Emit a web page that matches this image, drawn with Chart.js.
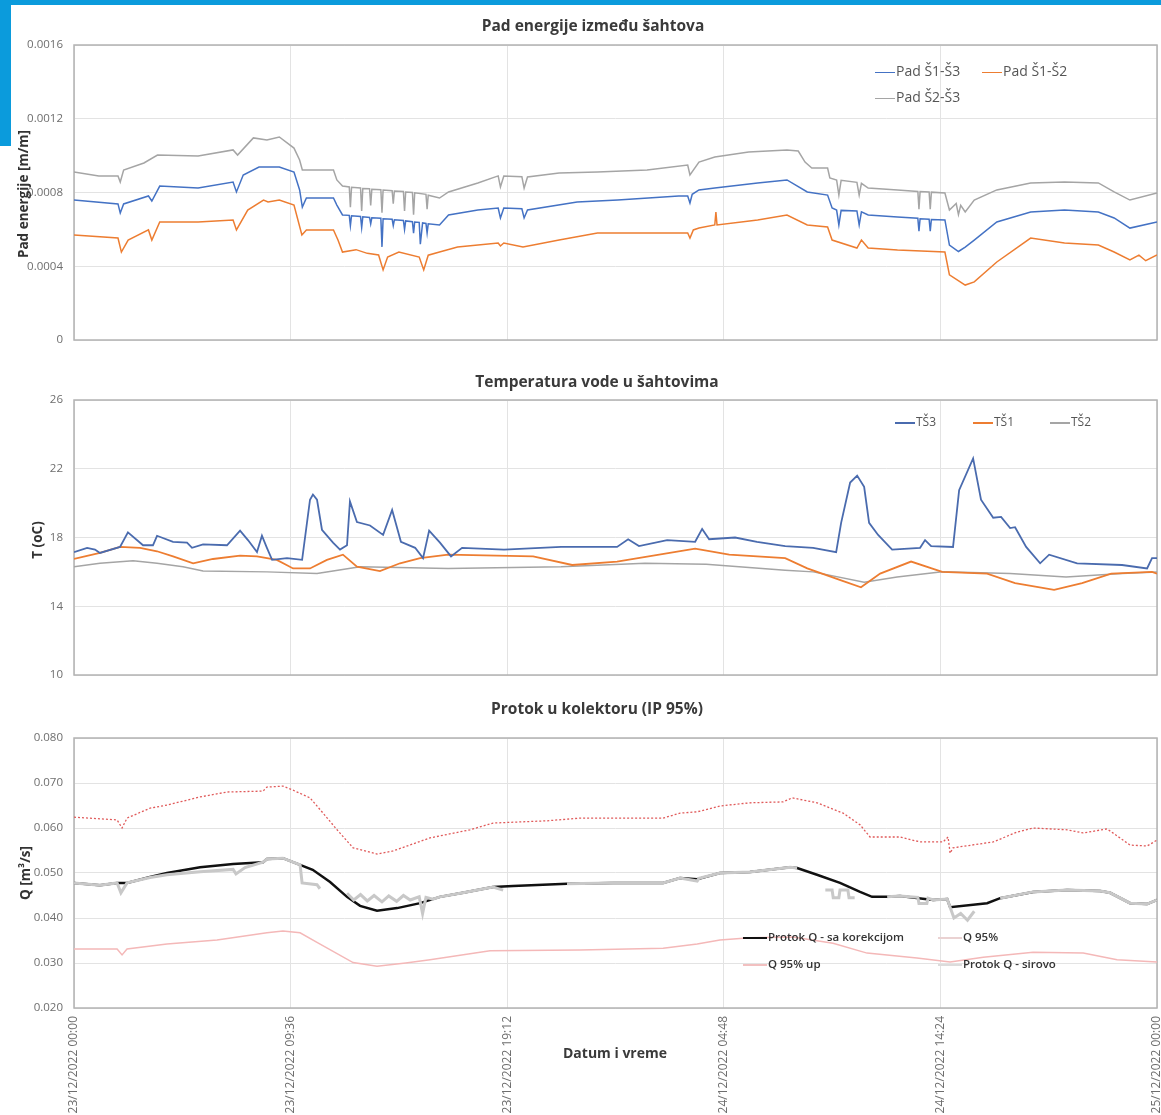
<!DOCTYPE html>
<html>
<head>
<meta charset="utf-8">
<script src="https://cdn.jsdelivr.net/npm/chart.js@4.4.0/dist/chart.umd.min.js"></script>
<style>
body { margin: 0; background: #fff; font-family: "Open Sans", sans-serif; }
#page { position: relative; width: 1161px; height: 1115px; overflow: hidden; background: #fff; }
canvas { position: absolute; left: 0; }
.bar { position: absolute; background: #0b9bdc; }
.title { position: absolute; width: 600px; text-align: center; font-weight: 700; font-size: 15.5px; color: #3a3a3a; line-height: 20px; }
.ytitle { position: absolute; width: 200px; text-align: center; font-weight: 700; font-size: 13.5px; color: #333; line-height: 16px; transform: rotate(-90deg); }
.leg { position: absolute; font-size: 12px; color: #555; line-height: 16px; white-space: nowrap; }
.leg i { display: inline-block; width: 20px; vertical-align: middle; margin-right: 1px; }
.leg1 { font-size: 14px; }
.leg3 { font-size: 11.5px; font-weight: 600; color: #333; }
.leg3 i { width: 24px; }
</style>
</head>
<body>
<div id="page">
  <canvas id="c1" width="1161" height="350" style="top:0"></canvas>
  <canvas id="c2" width="1161" height="335" style="top:350px"></canvas>
  <canvas id="c3" width="1161" height="430" style="top:685px"></canvas>

  <div class="bar" style="left:0;top:0;width:1161px;height:5px"></div>
  <div class="bar" style="left:0;top:0;width:11px;height:146px"></div>

  <div class="title" style="left:293px;top:15px">Pad energije između šahtova</div>
  <div class="title" style="left:297px;top:371px">Temperatura vode u šahtovima</div>
  <div class="title" style="left:297px;top:698px">Protok u kolektoru (IP 95%)</div>

  <div class="ytitle" style="left:-77px;top:186px">Pad energije [m/m]</div>
  <div class="ytitle" style="left:-63px;top:532px">T (oC)</div>
  <div class="ytitle" style="left:-75px;top:865px">Q [m³/s]</div>
  <div class="title" style="left:315px;top:1043px;font-size:14px">Datum i vreme</div>

  <div id="legends"></div>
</div>

<script>
// x axis: hours from 23/12/2022 00:00
var tickHours = [0, 9.6, 19.2, 28.8, 38.4, 48];
var tickLabels = ['23/12/2022 00:00', '23/12/2022 09:36', '23/12/2022 19:12',
    '24/12/2022 04:48', '24/12/2022 14:24', '25/12/2022 00:00'];

// chart 1 - pad energije [m/m], [hour, value]
var padTicks = [0, 0.0004, 0.0008, 0.0012, 0.0016];
var padS13 = [[0,0.000759],[1.95,0.000738],[2.05,0.000689],[2.2,0.000738],[3.3,0.000781],[3.45,0.000754],[3.8,0.000835],
    [5.5,0.000824],[7.05,0.000857],[7.2,0.000803],[7.5,0.000895],[8.2,0.000938],[9.1,0.000938],[9.75,0.000911],
    [10.0,0.000814],[10.12,0.000721],[10.3,0.000770],[11.5,0.000770],[11.65,0.000732],[11.9,0.000678],
    [12.2,0.000676],[12.25,0.000620],[12.3,0.000674],[12.7,0.000670],[12.75,0.000610],[12.8,0.000668],
    [13.1,0.000665],[13.15,0.000630],[13.2,0.000663],[13.6,0.000660],[13.65,0.000505],[13.7,0.000658],
    [14.1,0.000655],[14.15,0.000620],[14.2,0.000652],[14.6,0.000648],[14.65,0.000600],[14.7,0.000646],
    [15.0,0.000642],[15.05,0.000580],[15.1,0.000640],[15.3,0.000638],[15.35,0.000520],[15.45,0.000635],
    [15.6,0.000632],[15.65,0.000580],[15.7,0.000630],[16.2,0.000624],[16.6,0.000678],[17.9,0.000705],
    [18.8,0.000716],[18.9,0.000662],[19.05,0.000716],[19.85,0.000712],[19.95,0.000662],[20.1,0.000705],
    [22.3,0.000749],[24.1,0.000759],[26.8,0.000781],[27.2,0.000781],[27.3,0.000743],[27.4,0.000790],
    [27.7,0.000814],[28.4,0.000824],[30.3,0.000852],[31.6,0.000868],[32.5,0.000803],[33.4,0.000786],
    [33.6,0.000716],[33.8,0.000705],[33.9,0.000624],[34.0,0.000703],[34.7,0.000700],[34.8,0.000624],
    [34.9,0.000695],[35.2,0.000678],[36.5,0.000667],[37.4,0.000660],[37.45,0.000590],[37.5,0.000658],
    [37.9,0.000655],[37.95,0.000590],[38.0,0.000654],[38.6,0.000651],[38.8,0.000515],[39.2,0.000480],
    [39.5,0.000504],[39.9,0.000542],[40.9,0.000640],[42.4,0.000694],[43.9,0.000705],[45.4,0.000694],
    [46.1,0.000662],[46.8,0.000607],[48,0.000640]];
var padS12 = [[0,0.000570],[1.95,0.000553],[2.1,0.000477],[2.4,0.000542],[3.3,0.000597],[3.45,0.000542],[3.8,0.000640],
    [5.5,0.000640],[7.05,0.000651],[7.2,0.000597],[7.7,0.000705],[8.4,0.000759],[8.6,0.000749],[9.1,0.000759],
    [9.75,0.000732],[10.1,0.000570],[10.3,0.000597],[11.5,0.000597],[11.7,0.000542],[11.9,0.000477],
    [12.5,0.000490],[13.0,0.000470],[13.5,0.000461],[13.7,0.000380],[13.9,0.000450],[14.4,0.000477],
    [15.3,0.000450],[15.5,0.000380],[15.7,0.000460],[16.2,0.000477],[17.0,0.000504],[18.8,0.000526],
    [18.9,0.000510],[19.05,0.000526],[19.9,0.000505],[21.5,0.000542],[23.2,0.000580],[25.0,0.000580],
    [26.8,0.000580],[27.2,0.000580],[27.3,0.000553],[27.45,0.000597],[27.7,0.000607],[28.4,0.000624],
    [28.45,0.000694],[28.5,0.000624],[30.3,0.000651],[31.6,0.000678],[32.5,0.000624],[33.4,0.000613],
    [33.6,0.000542],[34.7,0.000499],[34.9,0.000542],[35.2,0.000499],[36.5,0.000488],[38.6,0.000477],
    [38.8,0.000353],[39.5,0.000298],[39.9,0.000315],[40.9,0.000423],[42.4,0.000553],[43.9,0.000526],
    [45.4,0.000515],[46.1,0.000477],[46.8,0.000434],[47.2,0.000460],[47.5,0.000430],[48,0.000461]];
var padS23 = [[0,0.000911],[1.1,0.000890],[1.95,0.000890],[2.05,0.000857],[2.2,0.000922],[3.1,0.000960],[3.7,0.001003],
    [5.5,0.000998],[7.05,0.001031],[7.25,0.001003],[7.95,0.001096],[8.55,0.001085],[9.1,0.001101],[9.75,0.001041],
    [10.0,0.000976],[10.12,0.000922],[11.5,0.000922],[11.65,0.000868],[11.9,0.000835],
    [12.2,0.000830],[12.25,0.000720],[12.3,0.000828],[12.7,0.000825],[12.75,0.000700],[12.8,0.000822],
    [13.1,0.000820],[13.15,0.000730],[13.2,0.000818],[13.6,0.000815],[13.65,0.000690],[13.7,0.000813],
    [14.1,0.000810],[14.15,0.000740],[14.2,0.000808],[14.6,0.000805],[14.65,0.000700],[14.7,0.000803],
    [15.0,0.000800],[15.05,0.000680],[15.1,0.000798],[15.6,0.000790],[15.65,0.000710],[15.7,0.000785],
    [16.2,0.000770],[16.6,0.000803],[17.9,0.000852],[18.8,0.000890],[18.9,0.000830],[19.05,0.000890],
    [19.85,0.000886],[19.95,0.000824],[20.1,0.000884],[21.5,0.000906],[23.2,0.000911],[25.4,0.000922],
    [27.2,0.000949],[27.3,0.000895],[27.7,0.000965],[28.4,0.000993],[29.9,0.001020],[31.6,0.001030],
    [32.1,0.001025],[32.4,0.000965],[32.7,0.000933],[33.4,0.000933],[33.5,0.000879],[33.8,0.000868],
    [33.9,0.000786],[34.0,0.000866],[34.7,0.000855],[34.8,0.000786],[34.9,0.000850],[35.2,0.000824],
    [36.5,0.000814],[37.4,0.000806],[37.45,0.000710],[37.5,0.000805],[37.9,0.000803],[37.95,0.000710],
    [38.0,0.000802],[38.6,0.000797],[38.8,0.000705],[39.1,0.000740],[39.2,0.000680],[39.3,0.000730],
    [39.5,0.000694],[39.9,0.000759],[40.9,0.000814],[42.4,0.000852],[43.9,0.000857],[45.4,0.000852],
    [46.1,0.000803],[46.8,0.000759],[48,0.000797]];

// chart 2 - temperatura [oC]
var tempTicks = [10, 14, 18, 22, 26];
var tempS3 = [[0,17.15],[0.58,17.4],[0.93,17.3],[1.15,17.1],[2.04,17.45],[2.39,18.3],[3.06,17.55],[3.5,17.55],
    [3.68,18.1],[4.39,17.75],[5.01,17.7],[5.23,17.4],[5.72,17.6],[6.78,17.55],[7.36,18.4],[7.71,17.85],
    [8.11,17.15],[8.33,18.1],[8.55,17.4],[8.78,16.7],[9.44,16.8],[10.11,16.7],[10.46,20.2],[10.59,20.5],
    [10.77,20.2],[10.99,18.45],[11.48,17.7],[11.79,17.3],[12.1,17.55],[12.23,20.1],[12.54,18.9],[13.12,18.7],
    [13.7,18.15],[14.1,19.6],[14.49,17.75],[15.12,17.4],[15.47,16.8],[15.74,18.4],[16.22,17.7],[16.71,16.9],
    [17.2,17.4],[19.06,17.3],[21.59,17.45],[24.07,17.45],[24.56,17.9],[25.04,17.5],[26.29,17.85],[27.53,17.75],
    [27.84,18.5],[28.15,17.9],[29.3,18.0],[30.27,17.75],[31.52,17.5],[32.76,17.4],[33.78,17.15],[34.0,18.85],
    [34.4,21.2],[34.71,21.6],[35.02,20.95],[35.24,18.85],[35.64,18.15],[36.26,17.3],[37.5,17.4],[37.72,17.85],
    [37.99,17.5],[38.96,17.45],[39.23,20.75],[39.85,22.6],[40.2,20.2],[40.74,19.15],[41.09,19.2],[41.49,18.55],
    [41.71,18.6],[42.2,17.45],[42.82,16.5],[43.22,17.0],[44.46,16.5],[46.45,16.4],[47.56,16.2],[47.78,16.8],[48,16.8]];
var tempS1 = [[0,16.75],[1.15,17.1],[2.04,17.45],[2.93,17.4],[3.68,17.2],[4.39,16.9],[5.28,16.5],[6.16,16.75],
    [7.36,16.95],[8.11,16.9],[8.99,16.7],[9.71,16.2],[10.46,16.2],[11.21,16.7],[11.92,17.0],[12.54,16.3],
    [13.56,16.05],[14.45,16.5],[15.34,16.8],[16.58,17.0],[20.35,16.9],[22.08,16.4],[24.07,16.6],[27.53,17.35],
    [29.04,17.0],[31.52,16.8],[32.5,16.2],[34.0,15.5],[34.88,15.1],[35.73,15.9],[37.1,16.6],[38.48,16.0],
    [40.47,15.9],[41.71,15.35],[43.44,14.95],[44.68,15.35],[45.97,15.9],[47.78,16.0],[48,15.9]];
var tempS2 = [[0,16.3],[1.15,16.5],[2.62,16.65],[3.68,16.5],[4.83,16.3],[5.72,16.05],[8.55,16.0],[10.77,15.9],
    [11.48,16.05],[12.68,16.3],[16.58,16.2],[21.59,16.3],[25.31,16.5],[28.02,16.45],[31.52,16.1],[32.76,16.0],
    [35.02,15.4],[36.48,15.7],[38.48,16.0],[41.49,15.9],[43.97,15.7],[46.45,15.9],[48,16.0]];

// chart 3 - protok [m3/s]
var qTicks = [0.020, 0.030, 0.040, 0.050, 0.060, 0.070, 0.080];
var qUpper = [[0,0.0624],[1.91,0.0618],[2.13,0.0600],[2.35,0.0622],[3.37,0.0644],[4.12,0.0651],[5.59,0.0669],
    [6.78,0.0680],[8.38,0.0682],[8.55,0.0691],[9.26,0.0693],[9.71,0.0684],[10.46,0.0667],[11.04,0.0633],
    [11.66,0.0596],[12.37,0.0556],[13.43,0.0542],[14.14,0.0549],[15.78,0.0578],[17.55,0.0596],[18.57,0.0611],
    [20.97,0.0616],[22.43,0.0622],[26.11,0.0622],[26.86,0.0633],[27.62,0.0636],[28.63,0.0649],[29.96,0.0656],
    [31.43,0.0658],[31.83,0.0667],[32.93,0.0656],[34.09,0.0633],[34.84,0.0607],[35.28,0.0580],[36.61,0.0580],
    [37.5,0.0569],[38.52,0.0569],[38.74,0.0580],[38.83,0.0544],[38.96,0.0556],[40.74,0.0569],[41.8,0.0591],
    [42.51,0.0600],[44.02,0.0596],[44.73,0.0589],[45.79,0.0598],[46.81,0.0562],[47.56,0.0560],[48,0.0573]];
var qLower = [[0,0.0331],[1.91,0.0331],[2.13,0.0318],[2.35,0.0331],[4.12,0.0342],[6.34,0.0351],[8.55,0.0367],
    [9.26,0.0371],[10.02,0.0367],[10.77,0.0346],[12.37,0.0301],[13.43,0.0293],[14.7,0.0300],[15.78,0.0307],
    [18.44,0.0327],[22.43,0.0329],[26.11,0.0333],[27.62,0.0342],[28.63,0.0351],[29.96,0.0356],[31.87,0.0358],
    [33.64,0.0344],[35.15,0.0322],[37.36,0.0311],[38.83,0.0302],[40.3,0.0313],[42.51,0.0324],[44.73,0.0322],
    [46.23,0.0307],[48,0.0302]];
var qCorr = [[0,0.0478],[1.15,0.0473],[1.91,0.0478],[2.35,0.0478],[3.37,0.0491],[4.12,0.0500],[5.59,0.0513],
    [7.05,0.0520],[8.38,0.0524],[8.55,0.0531],[9.26,0.0533],[10.02,0.0518],[10.58,0.0507],[11.35,0.0480],
    [12.1,0.0447],[12.68,0.0427],[13.43,0.0416],[14.32,0.0422],[15.34,0.0433],[16.22,0.0447],[17.24,0.0456],
    [18.57,0.0469],[19.46,0.0471],[21.85,0.0476],[23.89,0.0478],[26.11,0.0478],[26.86,0.0489],[27.62,0.0486],
    [28.63,0.0500],[29.96,0.0502],[31.74,0.0513],[32.05,0.0511],[32.93,0.0496],[33.95,0.0478],[34.84,0.0458],
    [35.37,0.0447],[36.04,0.0447],[36.61,0.0449],[38.08,0.0440],[38.7,0.0442],[38.83,0.0424],[40.47,0.0433],
    [41.05,0.0444],[42.51,0.0458],[44.02,0.0462],[45.48,0.0460],[45.92,0.0456],[46.81,0.0433],[47.56,0.0431],[48,0.0440]];
var qRaw = [[0,0.0478],[1.15,0.0473],[1.91,0.0478],[2.08,0.0456],[2.35,0.0478],[3.37,0.0490],[4.12,0.0496],
    [5.59,0.0503],[7.05,0.0508],[7.18,0.0498],[7.58,0.0512],[8.38,0.0524],[8.55,0.0531],[9.26,0.0533],
    [10.02,0.0518],[10.11,0.0478],[10.77,0.0474],[10.9,0.0465],[11.0,null],
    [12.1,0.0455],[12.4,0.0440],[12.7,0.0452],[13.0,0.0438],[13.3,0.0450],[13.65,0.0436],[13.95,0.0449],
    [14.3,0.0437],[14.6,0.0450],[14.9,0.0440],[15.3,0.0447],[15.45,0.0410],[15.6,0.0446],[15.9,0.0442],
    [16.22,0.0447],[17.24,0.0456],[18.57,0.0469],[19.02,0.0462],[19.1,null],
    [21.85,0.0476],[23.89,0.0478],[26.11,0.0478],[26.86,0.0489],[27.62,0.0482],[27.7,0.0488],[28.63,0.0500],
    [29.96,0.0502],[31.74,0.0513],[32.05,0.0511],[32.2,null],
    [33.3,0.0462],[33.6,0.0462],[33.65,0.0445],[33.9,0.0445],[33.95,0.0462],[34.3,0.0462],[34.35,0.0445],
    [34.6,0.0445],[34.7,null],
    [36.04,0.0447],[36.61,0.0449],[37.4,0.0446],[37.45,0.0432],[37.8,0.0432],[37.85,0.0444],[38.08,0.0440],
    [38.7,0.0442],[38.83,0.0424],[39.0,0.0400],[39.3,0.0410],[39.6,0.0395],[39.9,0.0415],[40.1,null],
    [41.05,0.0444],[42.51,0.0458],[44.02,0.0462],[45.48,0.0460],[45.92,0.0456],[46.81,0.0433],[47.56,0.0431],[48,0.0440]];

function pts(arr) {
    return arr.map(function (p) { return {x: p[0], y: p[1]}; });
}

function line(label, arr, color, width, extra) {
    var ds = {label: label, data: pts(arr), borderColor: color, backgroundColor: color,
        borderWidth: width, pointRadius: 0, tension: 0, spanGaps: false};
    for (var k in extra) ds[k] = extra[k];
    return ds;
}

// plot box round the chart area
var boxPlugin = {
    id: 'box',
    beforeDatasetsDraw: function (chart) {
        var a = chart.chartArea, ctx = chart.ctx;
        ctx.save();
        ctx.strokeStyle = '#b3b3b3';
        ctx.lineWidth = 1.5;
        ctx.strokeRect(a.left, a.top, a.right - a.left, a.bottom - a.top);
        ctx.restore();
    }
};

function makeChart(id, datasets, yTicks, yFmt, top, xHeight, showX) {
    return new Chart(document.getElementById(id), {
        type: 'line',
        data: {datasets: datasets},
        plugins: [boxPlugin],
        options: {
            responsive: false,
            animation: false,
            layout: {padding: {left: 0, right: 4, top: top, bottom: 0}},
            plugins: {legend: {display: false}, tooltip: {enabled: false}},
            scales: {
                x: {
                    type: 'linear', min: 0, max: 48,
                    afterBuildTicks: function (s) { s.ticks = tickHours.map(function (v) { return {value: v}; }); },
                    afterFit: function (s) { s.height = xHeight; s.paddingLeft = 0; s.paddingRight = 0; },
                    grid: {color: '#e3e3e3', lineWidth: 1, drawTicks: false},
                    border: {display: false},
                    ticks: {
                        display: showX, autoSkip: false, minRotation: 90, maxRotation: 90, padding: 8,
                        color: '#6e6e6e', font: {family: 'Open Sans', size: 12},
                        callback: function (v, i) { return tickLabels[i]; }
                    }
                },
                y: {
                    min: yTicks[0], max: yTicks[yTicks.length - 1],
                    afterBuildTicks: function (s) { s.ticks = yTicks.map(function (v) { return {value: v}; }); },
                    afterFit: function (s) { s.width = 74; s.paddingTop = 0; s.paddingBottom = 0; },
                    grid: {color: '#e3e3e3', lineWidth: 1, drawTicks: false},
                    border: {display: false},
                    ticks: {
                        padding: 11, color: '#6e6e6e', font: {family: 'Open Sans', size: 11.5},
                        callback: yFmt
                    }
                }
            }
        }
    });
}

var chart1 = makeChart('c1', [
    line('Pad Š1-Š3', padS13, '#4472C4', 1.5, {order: 0}),
    line('Pad Š1-Š2', padS12, '#ED7D31', 1.5, {order: 1}),
    line('Pad Š2-Š3', padS23, '#A5A5A5', 1.5, {order: 2})
], padTicks, function (v) { return v === 0 ? '0' : v.toFixed(4); }, 45, 10, false);

var chart2 = makeChart('c2', [
    line('TŠ3', tempS3, '#4A6BAE', 1.8, {order: 0}),
    line('TŠ1', tempS1, '#ED7D31', 1.8, {order: 1}),
    line('TŠ2', tempS2, '#A5A5A5', 1.5, {order: 2})
], tempTicks, function (v) { return String(v); }, 50, 10, false);

var chart3 = makeChart('c3', [
    line('Protok Q - sa korekcijom', qCorr, '#111111', 2.5, {order: 1}),
    line('Q 95%', qUpper, '#E05A5A', 1.3, {order: 2, borderDash: [2, 2]}),
    line('Q 95% up', qLower, '#F4B8B8', 1.5, {order: 3}),
    line('Protok Q - sirovo', qRaw, '#C8C8C8', 3, {order: 0})
], qTicks, function (v) { return v.toFixed(3); }, 53, 107, true);

// legends as page text
var legends = [
    {text: 'Pad Š1-Š3', color: '#4472C4', w: 1.5, x: 875, y: 63, cls: 'leg1'},
    {text: 'Pad Š1-Š2', color: '#ED7D31', w: 1.5, x: 982, y: 63, cls: 'leg1'},
    {text: 'Pad Š2-Š3', color: '#A5A5A5', w: 1.5, x: 875, y: 89, cls: 'leg1'},
    {text: 'TŠ3', color: '#4A6BAE', w: 1.5, x: 895, y: 414, cls: ''},
    {text: 'TŠ1', color: '#ED7D31', w: 1.5, x: 973, y: 414, cls: ''},
    {text: 'TŠ2', color: '#A5A5A5', w: 1.5, x: 1050, y: 414, cls: ''},
    {text: 'Protok Q - sa korekcijom', color: '#111', w: 2.5, x: 743, y: 929, cls: 'leg3'},
    {text: 'Q 95%', color: '#ead2d2', w: 1.5, x: 938, y: 929, cls: 'leg3'},
    {text: 'Q 95% up', color: '#f2c0c0', w: 1.5, x: 743, y: 956, cls: 'leg3'},
    {text: 'Protok Q - sirovo', color: '#dcdcdc', w: 2, x: 938, y: 956, cls: 'leg3'}
];
var html = '';
legends.forEach(function (l) {
    html += '<div class="leg ' + l.cls + '" style="left:' + l.x + 'px;top:' + l.y + 'px">' +
        '<i style="height:' + l.w + 'px;background:' + l.color + '"></i>' + l.text + '</div>';
});
document.getElementById('legends').innerHTML = html;
</script>
</body>
</html>
